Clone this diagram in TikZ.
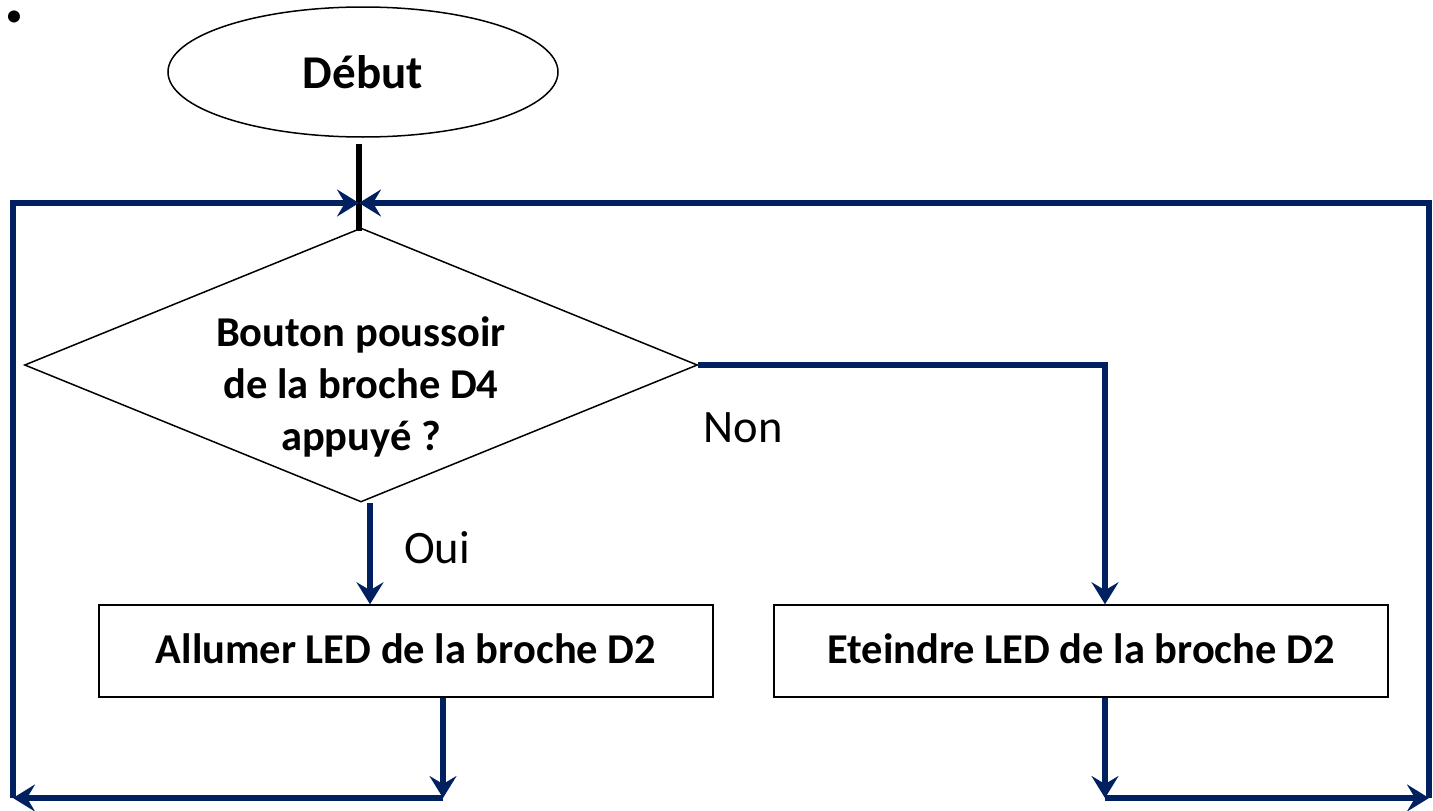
\documentclass[tikz,border=0pt]{standalone}
\usepackage{fontspec}
\setmainfont{Carlito}
\usetikzlibrary{arrows.meta, positioning, shapes.geometric}
\definecolor{navy}{HTML}{002060}

\begin{document}
\begin{tikzpicture}[
    x=1pt, y=-1pt,
    terminal/.style={ellipse, draw, line width=1.5pt, minimum width=390pt, minimum height=130pt, font=\fontsize{47}{55}\selectfont\bfseries},
    decision/.style={diamond, draw, line width=1.5pt, minimum width=673pt, minimum height=274pt, inner sep=0pt},
    question/.style={align=center, inner sep=0pt, font=\fontsize{42.5}{52}\selectfont\bfseries},
    block/.style={rectangle, draw, line width=1.5pt, minimum width=614pt, minimum height=92pt, font=\fontsize{42.5}{50}\selectfont\bfseries},
    answer/.style={font=\fontsize{46.5}{54}\selectfont},
    arrow/.style={navy, line width=6pt, -{Stealth[length=22pt, width=27pt, inset=8pt]}}
]
    \useasboundingbox (0,0) rectangle (1433,811);
    \node (dot) at (14,19) {\fontsize{34}{34}\selectfont •};
    \node[terminal] (start) at (363,72) {Début};
    \node[decision] (cond) at (361,365) {};
    \node[question] (qtext) at ([yshift=-22pt]cond.center) {Bouton poussoir\\de la broche D4\\appuyé ?};
    \node[block] (on) at (406,651) {\raisebox{4pt}{Allumer LED de la broche D2}};
    \node[block] (off) at (1081,651) {\raisebox{4pt}{Eteindre LED de la broche D2}};
    \node[answer] (yes) at (437,548) {Oui};
    \node[answer] (no) at (743,428) {Non};

    \coordinate (join) at (359,203);
    \coordinate (outL) at (443,798);
    \coordinate (outR) at (1105,798);
    \coordinate (botL) at (13,798);
    \coordinate (botR) at (1429,798);

    \draw[line width=6pt] ([yshift=-6pt]start.south -| join) -- ([yshift=-4pt]cond.north -| join);
    \draw[arrow] ([xshift=9pt]cond.south) -- ([xshift=9pt]cond.south |- on.north);
    \draw[arrow] (cond.east) -| (outR |- off.north);
    \draw[arrow] (outL |- on.south) -- (outL);
    \draw[arrow] (outR |- off.south) -- (outR);
    \draw[arrow] (outL) -- (botL);
    \draw[arrow] (outR) -- (botR);
    \draw[arrow] (botL) |- (join);
    \draw[arrow] (botR) |- (join);
\end{tikzpicture}
\end{document}
